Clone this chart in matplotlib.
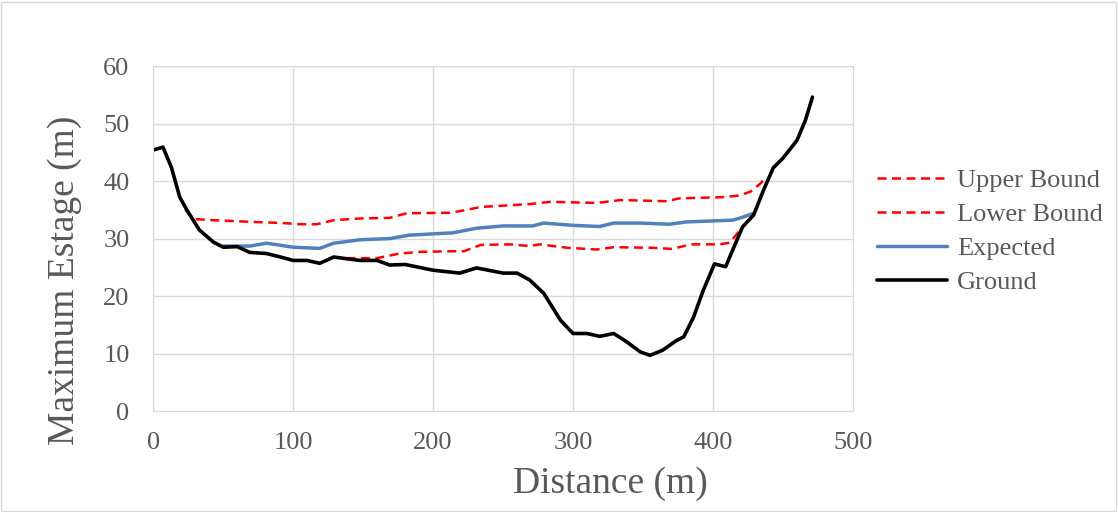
import matplotlib.pyplot as plt
from matplotlib.patches import Rectangle

# distance (m) / elevation (m) pairs for each profile
upper_x = [23, 29, 43, 71, 93, 105, 117, 129, 148, 169, 181, 212, 222, 234, 269, 284, 317, 334, 367, 376, 407, 419, 427, 434, 438]
upper_y = [35.0, 33.4, 33.2, 32.9, 32.7, 32.5, 32.5, 33.2, 33.5, 33.6, 34.4, 34.5, 34.9, 35.5, 36.0, 36.4, 36.2, 36.7, 36.5, 37.0, 37.2, 37.5, 38.2, 39.6, 40.8]

lower_x = [138, 160, 176, 191, 214, 222, 234, 255, 269, 276, 296, 317, 329, 357, 371, 384, 405, 412, 419, 422]
lower_y = [26.6, 26.6, 27.4, 27.7, 27.8, 27.8, 28.9, 29.0, 28.7, 29.0, 28.4, 28.1, 28.5, 28.4, 28.2, 29.0, 29.0, 29.3, 31.4, 32.3]

expected_x = [50, 69, 81, 100, 119, 129, 148, 169, 183, 214, 231, 250, 271, 279, 300, 319, 329, 348, 369, 381, 414, 421, 429]
expected_y = [28.7, 28.7, 29.2, 28.5, 28.3, 29.2, 29.8, 30.0, 30.6, 31.0, 31.8, 32.2, 32.2, 32.7, 32.3, 32.1, 32.7, 32.7, 32.5, 32.9, 33.2, 33.7, 34.4]

ground_x = [0, 7, 13, 19, 24, 33, 43, 50, 60, 69, 81, 91, 100, 110, 119, 129, 138, 148, 160, 169,
            180, 200, 219, 231, 250, 260, 269, 279, 291, 300, 310, 319, 329, 338, 348, 355, 364, 374,
            379, 386, 393, 401, 409, 414, 421, 429, 436, 443, 450, 460, 466, 471]
ground_y = [45.4, 45.9, 42.4, 37.2, 35.0, 31.5, 29.4, 28.5, 28.6, 27.6, 27.4, 26.8, 26.2, 26.2, 25.7, 26.8, 26.5, 26.2, 26.2, 25.4,
            25.5, 24.5, 24.0, 24.9, 24.0, 24.0, 22.8, 20.5, 15.8, 13.5, 13.5, 13.0, 13.5, 12.1, 10.3, 9.7, 10.6, 12.3,
            12.9, 16.3, 21.0, 25.6, 25.1, 28.0, 32.0, 34.1, 38.4, 42.3, 44.0, 47.1, 50.6, 54.6]

plt.rcParams['font.family'] = ['Liberation Serif', 'DejaVu Serif']
grey = '#595959'

fig = plt.figure(figsize=(11.18, 5.12), dpi=100)
ax = fig.add_axes([0.137, 0.197, 0.626, 0.674])

dash = (0, (3.6, 2.2))
ax.plot(upper_x, upper_y, color='#ff0000', lw=1.8, linestyle=dash, label='Upper Bound')
ax.plot(lower_x, lower_y, color='#ff0000', lw=1.8, linestyle=dash, label='Lower Bound')
ax.plot(expected_x, expected_y, color='#4f81bd', lw=2.5, label='Expected', solid_joinstyle='round', solid_capstyle='round')
ax.plot(ground_x, ground_y, color='black', lw=2.6, label='Ground', solid_joinstyle='round', solid_capstyle='round')

ax.set_xlim(0, 500)
ax.set_ylim(0, 60)
ax.set_xticks(range(0, 501, 100))
ax.set_yticks(range(0, 61, 10))
ax.grid(True, color='#d9d9d9', lw=1)
ax.set_axisbelow(True)
for s in ax.spines.values():
    s.set_color('#d9d9d9')
ax.tick_params(length=0, labelsize=19, colors=grey)
ax.tick_params(axis='x', pad=15)
ax.tick_params(axis='y', pad=17)

# axis titles sit off-centre, placed in axes fractions
ax.set_xlabel('Distance (m)', fontsize=27, color=grey, va='center')
ax.xaxis.set_label_coords(0.653, -0.21)
ax.set_ylabel('Maximum Estage (m)', fontsize=27, color=grey, va='center')
ax.yaxis.set_label_coords(-0.127, 0.38)

ax.legend(loc='center left', bbox_to_anchor=(1.0, 0.52), frameon=False, fontsize=19,
          labelcolor=grey, handlelength=2.65, handletextpad=0.4, labelspacing=0.4)

fig.patches.append(Rectangle((0.001, 0.002), 0.997, 0.995, transform=fig.transFigure,
                             fill=False, edgecolor='#d9d9d9', lw=1))

fig.savefig('out.png', dpi=100)
